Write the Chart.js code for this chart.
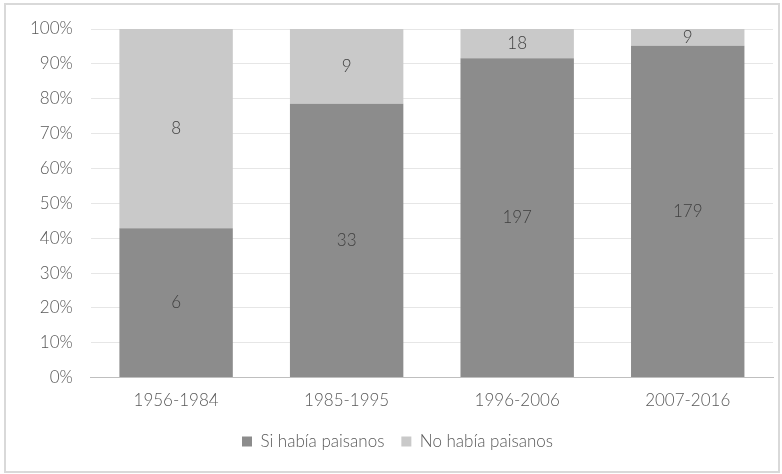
<!DOCTYPE html>
<html>
<head>
<meta charset="utf-8">
<script src="https://cdn.jsdelivr.net/npm/chart.js@4"></script>
<style>
  body { margin: 0; background: #fff; }
  #wrap { position: absolute; left: 4px; top: 3px; width: 772px; height: 466px; border: 2px solid #d9d9d9; }
</style>
</head>
<body>
<div id="wrap"><canvas id="chartPaisanos"></canvas></div>
<script>
// Periods and counts
const periodos = ['1956-1984', '1985-1995', '1996-2006', '2007-2016'];
const siPaisanos = [6, 33, 197, 179];
const noPaisanos = [8, 9, 18, 9];

// Share of each period total (100% stacked)
const totales = siPaisanos.map((v, i) => v + noPaisanos[i]);
const pct = arr => arr.map((v, i) => v / totales[i] * 100);

const fuente = 'Lato, "Noto Sans", sans-serif';

// Custom plugin to write the counts in the bars
const etiquetasBarras = {
    id: 'etiquetasBarras',
    afterDatasetsDraw(chart) {
        const { ctx } = chart;
        ctx.save();
        ctx.font = '300 17px ' + fuente;
        ctx.fillStyle = '#404040';
        ctx.textAlign = 'center';
        ctx.textBaseline = 'middle';
        chart.data.datasets.forEach((ds, d) => {
            chart.getDatasetMeta(d).data.forEach((bar, i) => {
                const mid = (bar.y + bar.base) / 2;
                ctx.fillText(ds.counts[i], bar.x, mid);
            });
        });
        ctx.restore();
    }
};

const graphArea = document.getElementById('chartPaisanos');

new Chart(graphArea, {
    type: 'bar',
    data: {
        labels: periodos,
        datasets: [{
            label: 'Si había paisanos',
            data: pct(siPaisanos),
            counts: siPaisanos,
            backgroundColor: '#8c8c8c',
        }, {
            label: 'No había paisanos',
            data: pct(noPaisanos),
            counts: noPaisanos,
            backgroundColor: '#c9c9c9',
        }]
    },
    options: {
        responsive: true,
        maintainAspectRatio: false,
        animation: false,
        categoryPercentage: 1,
        barPercentage: 0.665,
        layout: { padding: { left: 16, right: 5, top: 24, bottom: 11 } },
        plugins: {
            tooltip: { enabled: false },
            legend: {
                position: 'bottom',
                labels: {
                    color: '#595959',
                    font: { family: fuente, size: 17, weight: '300' },
                    boxWidth: 10,
                    boxHeight: 10,
                    padding: 17,
                },
                onClick: () => { },
            }
        },
        scales: {
            x: {
                stacked: true,
                ticks: { color: '#595959', font: { family: fuente, size: 17, weight: '300' }, padding: 5 },
                grid: { display: false },
                border: { color: '#bfbfbf', width: 1 },
            },
            y: {
                stacked: true,
                min: 0,
                max: 100,
                ticks: {
                    stepSize: 10,
                    color: '#595959',
                    font: { family: fuente, size: 17, weight: '300' },
                    padding: 8,
                    callback: v => v + '%',
                },
                grid: { color: '#e6e6e6', drawTicks: true, tickLength: 10, tickColor: 'rgba(0,0,0,0)' },
                border: { display: false },
            }
        }
    },
    plugins: [etiquetasBarras]
});
</script>
</body>
</html>
